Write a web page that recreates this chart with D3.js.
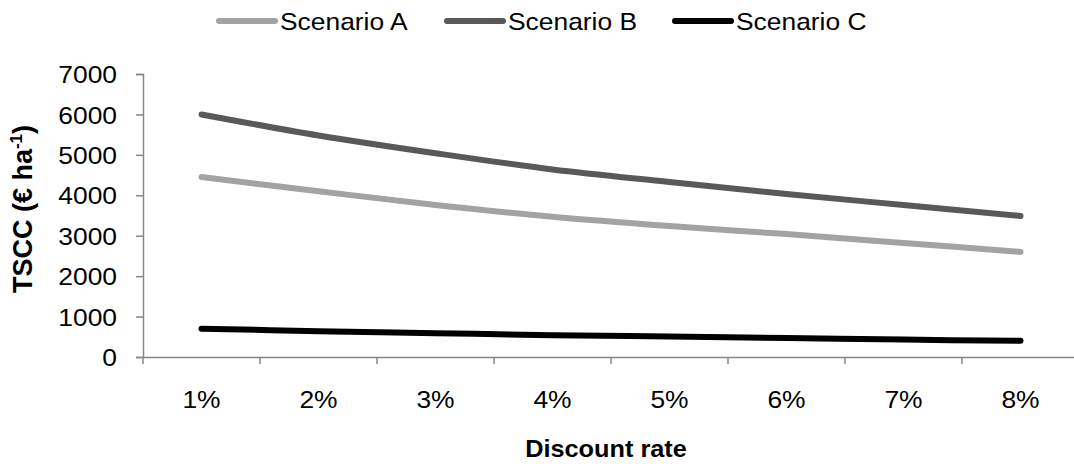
<!DOCTYPE html>
<html>
<head>
<meta charset="utf-8">
<script src="https://cdn.jsdelivr.net/npm/d3@7"></script>
<style>
  html, body { margin: 0; padding: 0; background: #fff; }
  svg { display: block; font-family: "Liberation Sans", Arial, sans-serif; }
</style>
</head>
<body>
<svg id="chart" width="1074" height="464"></svg>
<script>
// ---- Data ----
const categories = ["1%", "2%", "3%", "4%", "5%", "6%", "7%", "8%"];
const scenarioA = [4450, 4100, 3760, 3470, 3240, 3040, 2820, 2600];
const scenarioB = [6000, 5480, 5040, 4640, 4330, 4030, 3760, 3490];
const scenarioC = [700, 640, 590, 540, 505, 470, 430, 400];
const seriesNames = ["Scenario A", "Scenario B", "Scenario C"];
const yTicks = [0, 1000, 2000, 3000, 4000, 5000, 6000, 7000];

const seriesColors = ["#a3a3a3", "#595959", "#000000"];
const series = [scenarioA, scenarioB, scenarioC].map((v, i) => ({
  name: seriesNames[i], values: v, color: seriesColors[i]
}));

// ---- Layout ----
const svg = d3.select("#chart");
const plotLeft = 143, plotRight = 1079, plotTop = 74, plotBottom = 357;
const stretch = 1.1;   // slight horizontal text stretch seen in the reference
const fs = 24;
const axisColor = "#868686";

const x = d3.scaleBand().domain(categories).range([plotLeft, plotRight]).padding(0);
const y = d3.scaleLinear().domain([0, 7000]).range([plotBottom, plotTop]);
const cx = d => x(d) + x.bandwidth() / 2;

// ---- Y axis ----
const yAxis = svg.append("g")
  .attr("transform", `translate(${plotLeft},0)`)
  .call(d3.axisLeft(y).tickValues(yTicks).tickSize(7).tickPadding(0).tickFormat(d3.format("d")));
yAxis.select(".domain").attr("stroke", axisColor).attr("stroke-width", 1.5);
yAxis.selectAll(".tick line").attr("stroke", axisColor).attr("stroke-width", 1.5);
yAxis.selectAll(".tick text")
  .attr("x", -26 / stretch)
  .attr("dy", "0.36em")
  .attr("transform", `scale(${stretch},1)`)
  .attr("font-size", fs)
  .attr("fill", "#000")
  .style("font-family", '"Liberation Sans", Arial, sans-serif');

// ---- X axis ----
const xAxis = svg.append("g")
  .attr("transform", `translate(0,${plotBottom})`)
  .call(d3.axisBottom(x).tickSize(0).tickPadding(0));
xAxis.select(".domain").attr("stroke", axisColor).attr("stroke-width", 1.5);
xAxis.selectAll(".tick text")
  .attr("y", 51)
  .attr("dy", 0)
  .attr("transform", `scale(${stretch},1)`)
  .attr("font-size", fs)
  .attr("fill", "#000")
  .style("font-family", '"Liberation Sans", Arial, sans-serif');
// Excel-style tick marks between categories
xAxis.selectAll("line.cat-tick")
  .data(categories)
  .enter().append("line")
  .attr("class", "cat-tick")
  .attr("x1", d => x(d)).attr("x2", d => x(d))
  .attr("y1", 0).attr("y2", 7)
  .attr("stroke", axisColor).attr("stroke-width", 1.5);

// ---- Axis titles ----
svg.append("text")
  .attr("transform", `translate(${(plotLeft + plotRight) / 2 - 5},457) scale(1.1,1)`)
  .attr("text-anchor", "middle")
  .attr("font-size", 23)
  .attr("font-weight", "bold")
  .text("Discount rate");

const yTitle = svg.append("text")
  .attr("transform", `translate(32,209) rotate(-90)`)
  .attr("text-anchor", "middle")
  .attr("font-size", 27)
  .attr("font-weight", "bold");
yTitle.append("tspan").text("TSCC (€ ha");
yTitle.append("tspan").attr("font-size", 17).attr("dy", -10).text("-1");
yTitle.append("tspan").attr("dy", 10).text(")");

// ---- Lines ----
const line = d3.line()
  .x((d, i) => cx(categories[i]))
  .y(d => y(d))
  .curve(d3.curveCatmullRom.alpha(0.5));

svg.append("g").selectAll("path")
  .data(series)
  .enter().append("path")
  .attr("d", d => line(d.values))
  .attr("fill", "none")
  .attr("stroke", d => d.color)
  .attr("stroke-width", 6)
  .attr("stroke-linecap", "round")
  .attr("stroke-linejoin", "round");

// ---- Legend ----
const legendX = [219, 447, 675];
const legend = svg.append("g").selectAll("g")
  .data(series)
  .enter().append("g")
  .attr("transform", (d, i) => `translate(${legendX[i]},21)`);
legend.append("line")
  .attr("x1", 0).attr("x2", 56)
  .attr("y1", 0).attr("y2", 0)
  .attr("stroke", d => d.color)
  .attr("stroke-width", 6)
  .attr("stroke-linecap", "round");
legend.append("text")
  .attr("transform", `translate(61,0) scale(${stretch},1)`)
  .attr("dy", "0.36em")
  .attr("font-size", fs)
  .attr("fill", "#000")
  .text(d => d.name);
</script>
</body>
</html>
